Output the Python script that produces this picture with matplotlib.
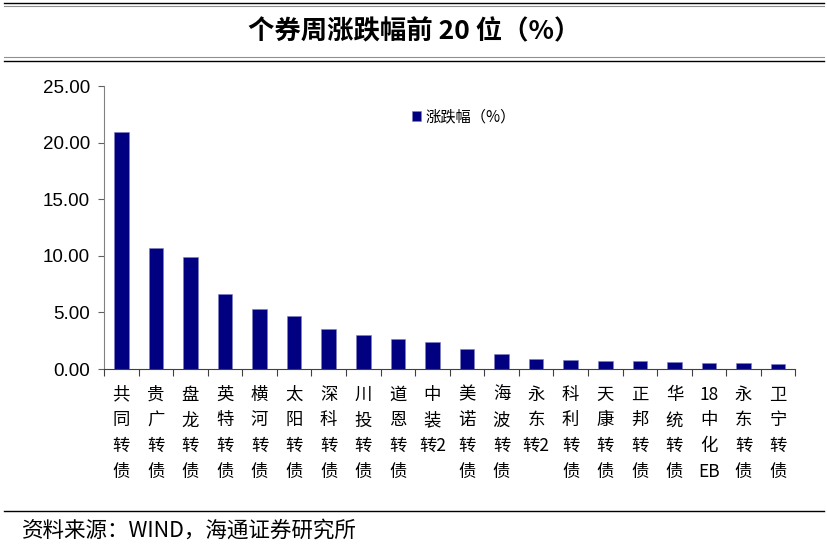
import numpy as np
import matplotlib.pyplot as plt
from matplotlib.lines import Line2D

plt.rcParams['font.family'] = ['Noto Sans CJK SC', 'DejaVu Sans']

# data
names = ['共同转债', '贵广转债', '盘龙转债', '英特转债', '横河转债', '太阳转债', '深科转债',
         '川投转债', '道恩转债', '中装转2', '美诺转债', '海波转债', '永东转2', '科利转债',
         '天康转债', '正邦转债', '华统转债', '18中化EB', '永东转债', '卫宁转债']
pct = [20.95, 10.72, 9.88, 6.67, 5.28, 4.66, 3.52, 2.99, 2.63, 2.42,
       1.80, 1.35, 0.90, 0.82, 0.72, 0.68, 0.64, 0.56, 0.52, 0.47]
yticks = [0, 5, 10, 15, 20, 25]


def vertical(name):
    # stack characters one per line, keep digit/latin runs together ("转2", "18", "EB")
    parts = []
    for ch in name:
        if ch.isascii() and parts and (parts[-1][-1].isascii() or parts[-1] == '转'):
            parts[-1] += ch
        else:
            parts.append(ch)
    return '\n'.join(parts)


labels = [vertical(n) for n in names]

fig = plt.figure(figsize=(8.28, 5.52), dpi=100)
ax = fig.add_axes([0.1256, 0.3315, 0.835, 0.5125])

x = np.arange(len(names))
ax.bar(x, pct, width=0.42, color='#000080', edgecolor='#8080c0', linewidth=0.4,
       label='涨跌幅（%）')

ax.set_xlim(-0.5, len(names) - 0.5)
ax.set_ylim(0, 25)
ax.set_yticks(yticks)
ax.set_yticklabels(['%.2f' % v for v in yticks], family='Liberation Sans', fontsize=13.5)
ax.tick_params(axis='y', direction='out', length=4, width=0.8, color='#606060', pad=6)

ax.set_xticks(x)
ax.set_xticklabels(labels, fontsize=12.5, linespacing=1.55, va='top')
ax.set_xticks(np.arange(-0.5, len(names)), minor=True)
ax.tick_params(axis='x', which='major', length=0, pad=12)
ax.tick_params(axis='x', which='minor', direction='out', length=5, width=0.8, color='#404040')

for s in ['top', 'right']:
    ax.spines[s].set_visible(False)
ax.spines['left'].set_color('#808080')
ax.spines['bottom'].set_color('#404040')

ax.legend(loc='upper left', bbox_to_anchor=(0.425, 0.97), frameon=False, fontsize=11,
          handlelength=0.6, handleheight=0.6, handletextpad=0.3)

# title block with rules
fig.add_artist(Line2D([0.005, 0.995], [0.995, 0.995], color='black', lw=1.0))
fig.add_artist(Line2D([0.005, 0.995], [0.990, 0.990], color='#909090', lw=0.8))
fig.text(0.5, 0.942, '个券周涨跌幅前 20 位（%）', ha='center', va='center',
         fontsize=19, fontweight='bold')
fig.add_artist(Line2D([0.005, 0.995], [0.896, 0.896], color='#909090', lw=0.8))
fig.add_artist(Line2D([0.005, 0.995], [0.890, 0.890], color='black', lw=1.0))

# source line
fig.add_artist(Line2D([0.005, 0.995], [0.074, 0.074], color='black', lw=1.0))
fig.text(0.027, 0.038, '资料来源：WIND，海通证券研究所', ha='left', va='center', fontsize=15.5)

fig.savefig('out.png', dpi=100)
